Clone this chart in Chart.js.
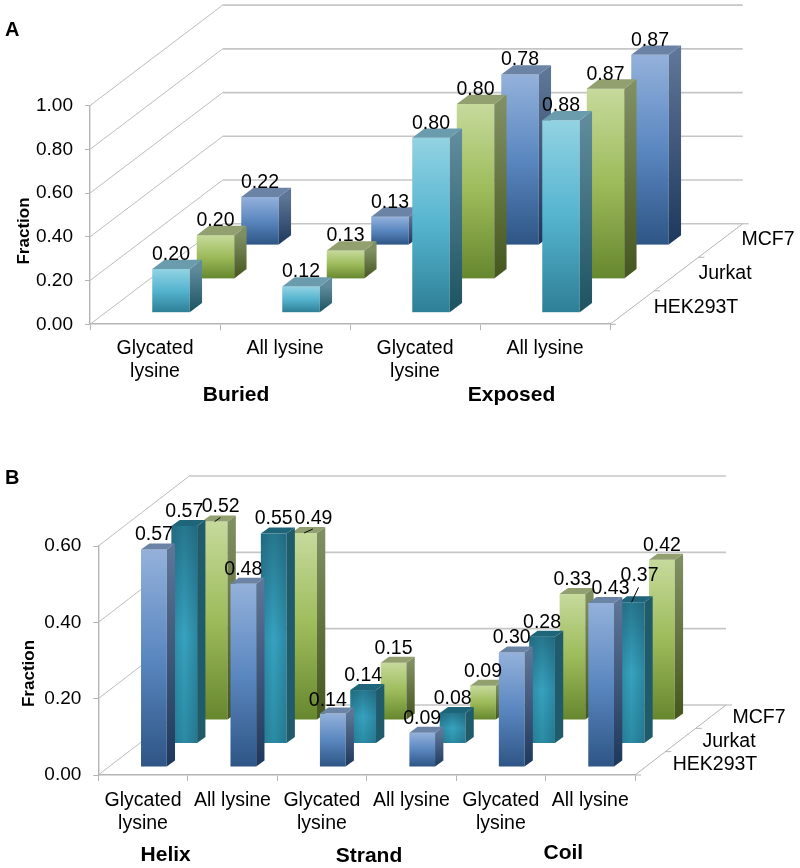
<!DOCTYPE html>
<html>
<head>
<meta charset="utf-8">
<title>Fraction of lysine</title>
<script src="https://cdn.jsdelivr.net/npm/chart.js@4/dist/chart.umd.min.js"></script>
<style>
  html, body { margin: 0; padding: 0; background: #fff; }
  #wrap { position: relative; width: 800px; height: 868px; overflow: hidden; }
  canvas { position: absolute; left: 0; }
  #chartA { top: 0; }
  #chartB { top: 430px; }
</style>
</head>
<body>
<div id="wrap">
  <canvas id="chartA" width="800" height="430"></canvas>
  <canvas id="chartB" width="800" height="438"></canvas>
</div>
<script>
const seriesNames = ['HEK293T', 'Jurkat', 'MCF7'];

const categoriesA = [['Glycated', 'lysine'], 'All lysine', ['Glycated', 'lysine'], 'All lysine'];
const hekA = [0.20, 0.12, 0.80, 0.88];
const jurkatA = [0.20, 0.13, 0.80, 0.87];
const mcf7A = [0.22, 0.13, 0.78, 0.87];
const ticksA = { max: 1, step: 0.2 };

const categoriesB = [['Glycated', 'lysine'], 'All lysine', ['Glycated', 'lysine'], 'All lysine', ['Glycated', 'lysine'], 'All lysine'];
const hekB = [0.57, 0.48, 0.14, 0.09, 0.30, 0.43];
const jurkatB = [0.57, 0.55, 0.14, 0.08, 0.28, 0.37];
const mcf7B = [0.52, 0.49, 0.15, 0.09, 0.33, 0.42];
const ticksB = { max: 0.6, step: 0.2 };

const FONT = '"Liberation Sans", Arial, sans-serif';
const GRID = '#c6c6c6';
const AXIS = '#b4b4b4';
const INK = '#000';

const teal = { front: ['#92d3e3', '#55b4cf', '#2e7f96'], side: ['#5f8b9c', '#1d5361'], top: '#6b9cad' };
const green = { front: ['#c6da9c', '#9dbb5a', '#67872f'], side: ['#808f61', '#45561e'], top: '#929f6e' };
const blue = { front: ['#94b1db', '#5a87c0', '#2e5585'], side: ['#5d7596', '#1e385d'], top: '#6b84a6' };
const darkTeal = { front: ['#27778e', '#37a2bf', '#2b8ba4'], side: ['#1f5b6b', '#1f5b6b'], top: '#1f6579', edges: true };

// draws walls, 3D boxes and the free text round the native axes
const box3d = {
  id: 'box3d',
  beforeDatasetsDraw(chart, args, o) {
    const { ctx, chartArea: a, scales: { y } } = chart;
    ctx.save();
    y.ticks.forEach(t => {
      const py = y.getPixelForValue(t.value);
      ctx.strokeStyle = '#bcbcbc';
      ctx.lineWidth = 1;
      ctx.beginPath();
      ctx.moveTo(a.left, py);
      ctx.lineTo(a.left + o.wall[0], py + o.wall[1]);
      ctx.stroke();
      ctx.strokeStyle = GRID;
      ctx.lineWidth = 1.6;
      ctx.beginPath();
      ctx.moveTo(a.left + o.wall[0], py + o.wall[1]);
      ctx.lineTo(a.right + o.wall[0], py + o.wall[1]);
      ctx.stroke();
    });
    // right edge of the floor and the depth ticks
    ctx.strokeStyle = AXIS;
    ctx.lineWidth = 1;
    ctx.beginPath();
    ctx.moveTo(a.right, a.bottom);
    ctx.lineTo(a.right + o.wall[0], a.bottom + o.wall[1]);
    for (let i = 0; i <= 3; i++) {
      const px = a.right + o.wall[0] * i / 3, py = a.bottom + o.wall[1] * i / 3;
      ctx.moveTo(px, py);
      ctx.lineTo(px + 6, py);
    }
    ctx.stroke();
    ctx.restore();
  },
  afterDatasetsDraw(chart, args, o) {
    const { ctx } = chart;
    ctx.save();
    // back row first so the front row covers it
    for (let d = chart.data.datasets.length - 1; d >= 0; d--) {
      const ds = chart.data.datasets[d];
      const dx = o.first[0] + o.step[0] * d, dy = o.first[1] + o.step[1] * d;
      chart.getDatasetMeta(d).data.forEach(bar => {
        drawBox(ctx, bar.x + dx - bar.width / 2, bar.y + dy, bar.width, bar.base - bar.y, o.side, ds.look);
      });
    }
    // value labels
    ctx.font = '19.5px ' + FONT;
    ctx.fillStyle = INK;
    ctx.textAlign = 'center';
    ctx.textBaseline = 'middle';
    chart.data.datasets.forEach((ds, d) => {
      const dx = o.first[0] + o.step[0] * d, dy = o.first[1] + o.step[1] * d;
      chart.getDatasetMeta(d).data.forEach((bar, i) => {
        const key = d + '-' + i;
        const s = (o.labelShift || {})[key] || [0, 0];
        const lead = (o.leaders || {})[key];
        if (lead) {
          ctx.strokeStyle = INK;
          ctx.lineWidth = 1;
          ctx.beginPath();
          ctx.moveTo(bar.x + dx, bar.y + dy);
          ctx.lineTo(bar.x + dx + lead[0], bar.y + dy + lead[1]);
          ctx.stroke();
        }
        ctx.fillText(ds.data[i].toFixed(2), bar.x + dx + s[0], bar.y + dy - 14.5 + s[1]);
      });
    });
    // series names along the depth axis
    o.depthText.forEach((p, i) => ctx.fillText(seriesNames[i], p[0], p[1]));
    // group names
    ctx.font = 'bold 21px ' + FONT;
    o.groups.forEach(g => ctx.fillText(g[0], g[1], g[2]));
    // panel letter
    ctx.font = 'bold 20px ' + FONT;
    ctx.textAlign = 'left';
    ctx.fillText(o.panel[0], o.panel[1], o.panel[2]);
    // axis title
    ctx.translate(o.yTitle[0], o.yTitle[1]);
    ctx.rotate(-Math.PI / 2);
    ctx.textAlign = 'center';
    ctx.font = 'bold 17px ' + FONT;
    ctx.fillText('Fraction', 0, 0);
    ctx.restore();
  }
};

function drawBox(ctx, x, y, w, h, side, look) {
  const sx = side[0], sy = side[1];
  const g = ctx.createLinearGradient(0, y, 0, y + h);
  g.addColorStop(0, look.front[0]);
  g.addColorStop(0.5, look.front[1]);
  g.addColorStop(1, look.front[2]);
  ctx.fillStyle = g;
  ctx.fillRect(x, y, w, h);
  if (look.edges) {
    const e = ctx.createLinearGradient(x, 0, x + w, 0);
    e.addColorStop(0, 'rgba(20,75,95,0.3)');
    e.addColorStop(0.5, 'rgba(20,75,95,0)');
    e.addColorStop(1, 'rgba(20,75,95,0.3)');
    ctx.fillStyle = e;
    ctx.fillRect(x, y, w, h);
  }
  const s = ctx.createLinearGradient(0, y, 0, y + h);
  s.addColorStop(0, look.side[0]);
  s.addColorStop(1, look.side[1]);
  ctx.fillStyle = s;
  ctx.beginPath();
  ctx.moveTo(x + w, y);
  ctx.lineTo(x + w + sx, y + sy);
  ctx.lineTo(x + w + sx, y + h + sy);
  ctx.lineTo(x + w, y + h);
  ctx.closePath();
  ctx.fill();
  ctx.fillStyle = look.top;
  ctx.beginPath();
  ctx.moveTo(x, y);
  ctx.lineTo(x + sx, y + sy);
  ctx.lineTo(x + w + sx, y + sy);
  ctx.lineTo(x + w, y);
  ctx.closePath();
  ctx.fill();
}

function makeChart(id, labels, rows, looks, ticks, barWidth, pad, axisHeight, box) {
  return new Chart(document.getElementById(id), {
    type: 'bar',
    plugins: [box3d],
    data: {
      labels,
      datasets: rows.map((data, i) => ({
        label: seriesNames[i],
        data,
        look: looks[i],
        grouped: false,
        barThickness: barWidth,
        backgroundColor: 'transparent',
        borderWidth: 0
      }))
    },
    options: {
      responsive: false,
      animation: false,
      devicePixelRatio: 1,
      layout: { padding: pad },
      plugins: { legend: { display: false }, tooltip: { enabled: false }, box3d: box },
      scales: {
        x: {
          afterFit: s => { s.height = axisHeight; },
          border: { color: AXIS, width: 1.6 },
          grid: { drawOnChartArea: false, color: AXIS, tickLength: 6 },
          ticks: {
            color: INK, padding: pad.xGap, autoSkip: false, maxRotation: 0,
            font: { family: FONT, size: 19.5, lineHeight: 1.17 }
          }
        },
        y: {
          min: 0, max: ticks.max,
          afterFit: s => { s.width = pad.yWidth; },
          border: { color: AXIS, width: 1.4 },
          grid: { drawOnChartArea: false, color: AXIS, tickLength: 5 },
          ticks: {
            color: INK, padding: 12, stepSize: ticks.step,
            font: { family: FONT, size: 19 },
            callback: v => v.toFixed(2)
          }
        }
      }
    }
  });
}

makeChart('chartA', categoriesA, [hekA, jurkatA, mcf7A], [teal, green, blue], ticksA, 37.5,
  { left: 0, right: 190, top: 105.6, bottom: 45.7, yWidth: 90, xGap: 7 }, 60, {
    wall: [132.7, -100.5],
    first: [16, -11.6],
    step: [44.5, -33.8],
    side: [12.3, -9.3],
    depthText: [[696, 308], [725, 274], [768, 240]],
    groups: [['Buried', 236, 395.5], ['Exposed', 511.5, 395.5]],
    panel: ['A', 5, 30],
    yTitle: [24.5, 231]
  });

makeChart('chartB', categoriesB, [hekB, jurkatB, mcf7B], [blue, darkTeal, green], ticksB, 25.7,
  { left: 0, right: 165, top: 116, bottom: 33, yWidth: 98.3, xGap: 8 }, 60, {
    wall: [91, -70],
    first: [10.85, -8],
    step: [30.4, -23.5],
    side: [8.3, -6],
    labelShift: { '2-0': [6, 0], '2-1': [9.3, 0], '0-2': [-5, 2], '0-5': [9.4, 0], '1-5': [8, -12.5] },
    leaders: { '2-0': [5.7, -4], '2-1': [8.7, -4], '1-5': [7, -15] },
    depthText: [[715, 335], [729, 311.7], [759, 287.7]],
    groups: [['Helix', 165.7, 425], ['Strand', 369, 426], ['Coil', 563.3, 423]],
    panel: ['B', 5, 48],
    yTitle: [29, 243.5]
  });
</script>
</body>
</html>
